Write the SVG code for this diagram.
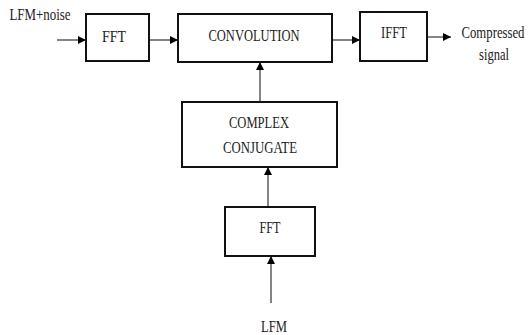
<svg xmlns="http://www.w3.org/2000/svg" width="528" height="335" viewBox="0 0 528 335">
<style>
.box{fill:#fff;stroke:#111;stroke-width:2}
.ln{stroke:#333;stroke-width:1.2;fill:none}
text{font-family:"Liberation Serif","Times New Roman",serif;font-size:17px;fill:#222;text-anchor:middle}
</style>
<defs>
<marker id="ah" viewBox="0 0 10 10" refX="10" refY="5" markerWidth="8" markerHeight="8" markerUnits="userSpaceOnUse" orient="auto">
<path d="M0,0 L10,5 L0,10 z" fill="#000"/>
</marker>
</defs>
<g id="connectors">
<line class="ln" x1="57" y1="40" x2="86" y2="40" marker-end="url(#ah)"/>
<line class="ln" x1="149" y1="40" x2="178" y2="40" marker-end="url(#ah)"/>
<line class="ln" x1="332" y1="40" x2="360" y2="40" marker-end="url(#ah)"/>
<line class="ln" x1="427" y1="37" x2="451" y2="37" marker-end="url(#ah)"/>
<line class="ln" x1="260" y1="102" x2="260" y2="62" marker-end="url(#ah)"/>
<line class="ln" x1="268" y1="207" x2="268" y2="167" marker-end="url(#ah)"/>
<line class="ln" x1="271" y1="303" x2="271" y2="256" marker-end="url(#ah)"/>
</g>
<g id="input-label"><text x="40" y="20" textLength="61" lengthAdjust="spacingAndGlyphs">LFM+noise</text></g>
<g id="fft1"><rect class="box" x="86" y="14" width="63" height="47"/><text x="114" y="42" textLength="24" lengthAdjust="spacingAndGlyphs">FFT</text></g>
<g id="convolution"><rect class="box" x="178" y="14" width="154" height="48"/><text x="254" y="41" textLength="91" lengthAdjust="spacingAndGlyphs">CONVOLUTION</text></g>
<g id="ifft"><rect class="box" x="360" y="12" width="67" height="49"/><text x="394" y="38" textLength="26" lengthAdjust="spacingAndGlyphs">IFFT</text></g>
<g id="output-label"><text transform="translate(493,38) scale(0.75,1)" x="0" y="0">Compressed</text><text x="494" y="60" textLength="30" lengthAdjust="spacingAndGlyphs">signal</text></g>
<g id="complex-conjugate"><rect class="box" x="182" y="102" width="155" height="65"/><text x="259" y="128" textLength="60" lengthAdjust="spacingAndGlyphs">COMPLEX</text><text x="260" y="153" textLength="74" lengthAdjust="spacingAndGlyphs">CONJUGATE</text></g>
<g id="fft2"><rect class="box" x="225" y="207" width="90" height="49"/><text x="270" y="233" textLength="21" lengthAdjust="spacingAndGlyphs">FFT</text></g>
<g id="lfm-label"><text x="274" y="332" textLength="26" lengthAdjust="spacingAndGlyphs">LFM</text></g>
</svg>
